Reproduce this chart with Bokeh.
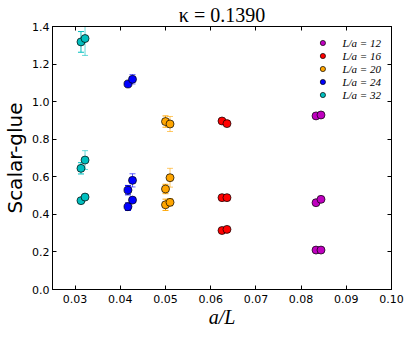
from bokeh.plotting import figure
from bokeh.models import (ColumnDataSource, Whisker, TeeHead, LinearAxis, FixedTicker,
                          PrintfTickFormatter, CustomJSTickFormatter, Range1d, Legend, LegendItem)
from bokeh.embed import file_html
from bokeh.resources import INLINE

# ---- data ----
series_labels = ["L/a = 12", "L/a = 16", "L/a = 20", "L/a = 24", "L/a = 32"]
series_colors = ["#bf00bf", "#ff0000", "#ffa500", "#0000ff", "#00bfbf"]

# x positions (a/L) of the two point sets per lattice
x_first = [0.0833, 0.0625, 0.0500, 0.0417, 0.0313]
x_second = [0.0844, 0.0636, 0.0510, 0.0427, 0.0322]

# values: three observables per lattice, first and second point sets
y_first = [
    [0.924, 0.462, 0.210],
    [0.897, 0.489, 0.314],
    [0.894, 0.535, 0.451],
    [1.094, 0.529, 0.441],
    [1.318, 0.645, 0.473],
]
e_first = [
    [0.010, 0.010, 0.008],
    [0.010, 0.008, 0.008],
    [0.030, 0.025, 0.030],
    [0.012, 0.025, 0.020],
    [0.055, 0.030, 0.010],
]
y_second = [
    [0.929, 0.480, 0.210],
    [0.883, 0.489, 0.320],
    [0.881, 0.595, 0.464],
    [1.119, 0.581, 0.476],
    [1.336, 0.689, 0.492],
]
e_second = [
    [0.010, 0.010, 0.008],
    [0.010, 0.008, 0.008],
    [0.040, 0.050, 0.020],
    [0.025, 0.035, 0.012],
    [0.090, 0.050, 0.010],
]

x_ticks = [0.03, 0.04, 0.05, 0.06, 0.07, 0.08, 0.09, 0.10]
y_ticks = [0.0, 0.2, 0.4, 0.6, 0.8, 1.0, 1.2, 1.4]

title_text = "κ = 0.1390"
x_label = "a/L"
y_label = "Scalar-glue"

# ---- figure ----
p = figure(frame_width=339, frame_height=263, output_backend="svg", toolbar_location=None,
           x_range=Range1d(0.025, 0.10), y_range=Range1d(0.0, 1.4),
           min_border_left=47, min_border_right=13, min_border_top=19, min_border_bottom=41)
p.background_fill_color = "white"
p.border_fill_color = "white"
p.outline_line_color = "black"
p.outline_line_width = 1
p.grid.visible = False

p.title.text = title_text
p.title.align = "center"
p.title.text_font = "Liberation Serif"
p.title.text_font_size = "20px"
p.title.text_font_style = "normal"
p.title.text_color = "black"
p.title.standoff = 2
p.title.offset = 0

for ax in [p.xaxis[0], p.yaxis[0]]:
    ax.major_tick_in = 4
    ax.major_tick_out = 0
    ax.minor_tick_line_color = None
    ax.major_label_text_font = "DejaVu Sans"
    ax.major_label_text_font_size = "11px"
    ax.major_label_text_color = "black"
    ax.axis_label_text_color = "black"
    ax.axis_line_color = "black"
    ax.major_tick_line_color = "black"

p.xaxis.ticker = FixedTicker(ticks=x_ticks)
p.yaxis.ticker = FixedTicker(ticks=y_ticks)
p.xaxis.formatter = PrintfTickFormatter(format="%.2f")
p.yaxis.formatter = PrintfTickFormatter(format="%.1f")
p.xaxis.major_label_standoff = 5
p.yaxis.major_label_standoff = 3

p.xaxis.axis_label = x_label
p.xaxis.axis_label_text_font = "Liberation Serif"
p.xaxis.axis_label_text_font_style = "italic"
p.xaxis.axis_label_text_font_size = "20px"
p.xaxis.axis_label_standoff = 0
p.yaxis.axis_label = y_label
p.yaxis.axis_label_text_font = "DejaVu Sans"
p.yaxis.axis_label_text_font_style = "normal"
p.yaxis.axis_label_text_font_size = "20px"
p.yaxis.axis_label_standoff = 2

for loc, ticks in (("above", x_ticks), ("right", y_ticks)):
    ax = LinearAxis(ticker=FixedTicker(ticks=ticks), major_tick_in=4, major_tick_out=0,
                    minor_tick_line_color=None,
                    formatter=CustomJSTickFormatter(code="return ''"),
                    major_label_standoff=0, axis_line_color="black",
                    major_tick_line_color="black")
    p.add_layout(ax, loc)

items = []
for i, (lab, col) in enumerate(zip(series_labels, series_colors)):
    rends = []
    for xs, ys, es, alpha in ((x_first, y_first, e_first, 1.0), (x_second, y_second, e_second, 0.6)):
        n = len(ys[i])
        src = ColumnDataSource(dict(
            x=[xs[i]] * n,
            y=ys[i],
            upper=[v + e for v, e in zip(ys[i], es[i])],
            lower=[v - e for v, e in zip(ys[i], es[i])],
        ))
        w = Whisker(source=src, base="x", upper="upper", lower="lower", dimension="height",
                    line_color=col, line_alpha=alpha, line_width=1, level="underlay",
                    upper_head=TeeHead(size=6, line_color=col, line_alpha=alpha, line_width=1),
                    lower_head=TeeHead(size=6, line_color=col, line_alpha=alpha, line_width=1))
        p.add_layout(w)
    for xs, ys in ((x_first, y_first), (x_second, y_second)):
        n = len(ys[i])
        src = ColumnDataSource(dict(x=[xs[i]] * n, y=ys[i]))
        r = p.scatter("x", "y", source=src, size=8, fill_color=col, line_color="black",
                      line_width=0.7)
        rends.append(r)
    items.append(LegendItem(label=lab, renderers=[rends[0]]))

legend = Legend(items=items, location="top_right", orientation="vertical")
legend.border_line_color = None
legend.background_fill_alpha = 0
legend.padding = 0
legend.margin = 10
legend.spacing = 0
legend.glyph_width = 14
legend.glyph_height = 13
legend.label_height = 13
legend.label_standoff = 13
legend.label_text_font = "Liberation Serif"
legend.label_text_font_style = "italic"
legend.label_text_font_size = "11px"
legend.label_text_line_height = 1.0
legend.label_text_color = "black"
legend.label_text_baseline = "middle"
p.add_layout(legend, "center")

open("out.html", "w").write(file_html(p, INLINE))
